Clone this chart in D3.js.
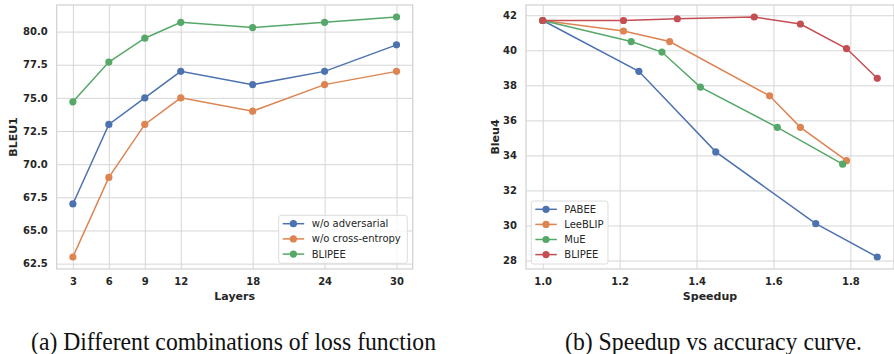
<!DOCTYPE html>
<html>
<head>
<meta charset="utf-8">
<script src="https://cdn.jsdelivr.net/npm/d3@7"></script>
<style>
  body { margin: 0; background: #fff; }
  svg { display: block; }
  .tick text { font-family: "DejaVu Sans", sans-serif; font-weight: bold; font-size: 10px; fill: #262626; }
  .axis .domain { display: none; }
  .grid line { stroke: #d6d6d6; stroke-width: 1; }
  .caption { font-family: "Liberation Serif", "Times New Roman", serif; font-size: 25px; fill: #111; }
</style>
</head>
<body>
<svg width="894" height="354"></svg>
<script>
// left panel data (loss function combinations)
var layers = [3, 6, 9, 12, 18, 24, 30];
var noAdversarial = [67, 73, 75, 77, 76, 77, 79];
var noCrossEntropy = [63, 69, 73, 75, 74, 76, 77];
var blipeeLayers = [74.7, 77.7, 79.5, 80.7, 80.3, 80.7, 81.1];
var leftNames = ["w/o adversarial", "w/o cross-entropy", "BLIPEE"];
var leftYTicks = [62.5, 65.0, 67.5, 70.0, 72.5, 75.0, 77.5, 80.0];

// right panel data (speedup vs bleu4)
var pabeeX = [1.0, 1.25, 1.45, 1.71, 1.87];
var pabeeY = [41.7, 38.8, 34.2, 30.1, 28.2];
var leeblipX = [1.0, 1.21, 1.33, 1.59, 1.67, 1.79];
var leeblipY = [41.7, 41.1, 40.5, 37.4, 35.6, 33.7];
var mueX = [1.0, 1.23, 1.31, 1.41, 1.61, 1.78];
var mueY = [41.7, 40.5, 39.9, 37.9, 35.6, 33.5];
var blipeeX = [1.0, 1.21, 1.35, 1.55, 1.67, 1.79, 1.87];
var blipeeY = [41.7, 41.7, 41.8, 41.9, 41.5, 40.1, 38.4];
var rightNames = ["PABEE", "LeeBLIP", "MuE", "BLIPEE"];
var rightXTicks = [1.0, 1.2, 1.4, 1.6, 1.8];
var rightYTicks = [28, 30, 32, 34, 36, 38, 40, 42];

var colors = ["#4C72B0", "#DD8452", "#55A868", "#C44E52"];

var svg = d3.select("svg");

function zip(xs, ys) {
  return xs.map(function(v, i) { return {x: v, y: ys[i]}; });
}

function panel(opt) {
  var x = opt.x, y = opt.y;
  var x0 = x.range()[0], x1 = x.range()[1], y0 = y.range()[1], y1 = y.range()[0];
  var g = svg.append("g");

  // frame
  g.append("rect")
    .attr("x", x0).attr("y", y0)
    .attr("width", x1 - x0).attr("height", y1 - y0)
    .attr("fill", "#fff").attr("stroke", "#d0d0d0").attr("stroke-width", 1.2);

  // grid + ticks
  g.append("g").attr("class", "axis grid")
    .attr("transform", "translate(0," + y1 + ")")
    .call(d3.axisBottom(x).tickValues(opt.xTicks).tickSize(-(y1 - y0)).tickPadding(9).tickFormat(opt.xFmt));
  g.append("g").attr("class", "axis grid")
    .attr("transform", "translate(" + x0 + ",0)")
    .call(d3.axisLeft(y).tickValues(opt.yTicks).tickSize(-(x1 - x0)).tickPadding(9).tickFormat(opt.yFmt));

  // axis labels
  g.append("text")
    .attr("x", (x0 + x1) / 2).attr("y", 300)
    .attr("text-anchor", "middle")
    .style("font-family", "DejaVu Sans").style("font-weight", "bold").style("font-size", "11px")
    .attr("fill", "#262626")
    .text(opt.xLabel);
  g.append("text")
    .attr("transform", "translate(" + opt.yLabelX + "," + (y0 + y1) / 2 + ") rotate(-90)")
    .attr("text-anchor", "middle")
    .attr("dy", "0.35em")
    .style("font-family", "DejaVu Sans").style("font-weight", "bold").style("font-size", "11px")
    .attr("fill", "#262626")
    .text(opt.yLabel);

  var line = d3.line().x(function(d) { return x(d.x); }).y(function(d) { return y(d.y); });

  opt.series.forEach(function(s, i) {
    g.append("path")
      .datum(s)
      .attr("d", line)
      .attr("fill", "none")
      .attr("stroke", colors[i])
      .attr("stroke-width", 1.5);
    g.selectAll(null)
      .data(s)
      .enter().append("circle")
      .attr("cx", function(d) { return x(d.x); })
      .attr("cy", function(d) { return y(d.y); })
      .attr("r", 3.6)
      .attr("fill", colors[i]);
  });

  // legend
  var L = opt.legend;
  var lg = g.append("g").attr("transform", "translate(" + L.x + "," + L.y + ")");
  lg.append("rect")
    .attr("width", L.w).attr("height", L.h)
    .attr("rx", 2.5)
    .attr("fill", "#fff").attr("fill-opacity", 0.8)
    .attr("stroke", "#dcdcdc").attr("stroke-width", 1);
  opt.names.forEach(function(n, i) {
    var cy = L.first + i * L.step;
    lg.append("line")
      .attr("x1", 4).attr("x2", 25.5).attr("y1", cy).attr("y2", cy)
      .attr("stroke", colors[i]).attr("stroke-width", 1.5);
    lg.append("circle").attr("cx", 14.7).attr("cy", cy).attr("r", 3.6).attr("fill", colors[i]);
    lg.append("text")
      .attr("x", 33).attr("y", cy).attr("dy", "0.35em")
      .style("font-family", "DejaVu Sans").style("font-size", "10px")
      .attr("fill", "#262626")
      .text(n);
  });
}

panel({
  x: d3.scaleLinear().domain([1.65, 31.35]).range([56.7, 412.7]),
  y: d3.scaleLinear().domain([62.095, 82.005]).range([269, 5]),
  xTicks: layers,
  yTicks: leftYTicks,
  xFmt: d3.format("d"),
  yFmt: d3.format(".1f"),
  xLabel: "Layers",
  yLabel: "BLEU1",
  yLabelX: 13,
  series: [zip(layers, noAdversarial), zip(layers, noCrossEntropy), zip(layers, blipeeLayers)],
  names: leftNames,
  legend: {x: 278.7, y: 215.3, w: 128.6, h: 48, first: 8.4, step: 15.2}
});

panel({
  x: d3.scaleLinear().domain([0.9565, 1.9135]).range([526, 894]),
  y: d3.scaleLinear().domain([27.515, 42.585]).range([269, 5]),
  xTicks: rightXTicks,
  yTicks: rightYTicks,
  xFmt: d3.format(".1f"),
  yFmt: d3.format("d"),
  xLabel: "Speedup",
  yLabel: "Bleu4",
  yLabelX: 495.5,
  series: [zip(pabeeX, pabeeY), zip(leeblipX, leeblipY), zip(mueX, mueY), zip(blipeeX, blipeeY)],
  names: rightNames,
  legend: {x: 531.3, y: 201, w: 76.7, h: 63, first: 8.3, step: 15.1}
});

// captions
var captions = [
  {text: "(a) Different combinations of loss function", x: 31, w: 405},
  {text: "(b) Speedup vs accuracy curve.", x: 565, w: 297}
];
svg.selectAll(".caption")
  .data(captions)
  .enter().append("text")
  .attr("class", "caption")
  .attr("x", function(d) { return d.x; })
  .attr("y", 349.5)
  .attr("textLength", function(d) { return d.w; })
  .attr("lengthAdjust", "spacingAndGlyphs")
  .text(function(d) { return d.text; });
</script>
</body>
</html>
